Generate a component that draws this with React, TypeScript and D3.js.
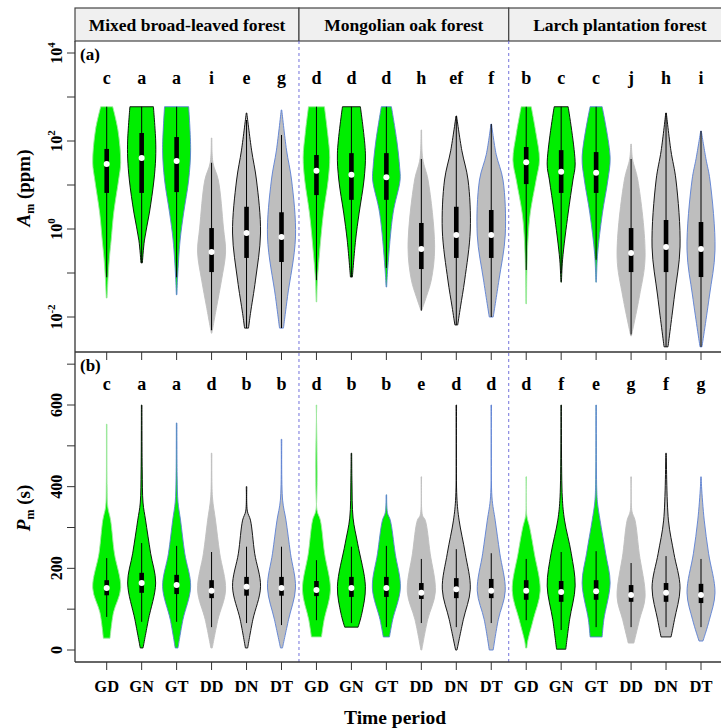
import React, { useEffect, useRef } from "react";
import * as d3 from "d3";

const forests = ["Mixed broad-leaved forest", "Mongolian oak forest", "Larch plantation forest"];
const periods = ["GD", "GN", "GT", "DD", "DN", "DT"];
const lettersA = ["c", "a", "a", "i", "e", "g", "d", "d", "d", "h", "ef", "f", "b", "c", "c", "j", "h", "i"];
const lettersB = ["c", "a", "a", "d", "b", "b", "d", "b", "b", "e", "d", "d", "d", "f", "e", "g", "f", "g"];

// violin outlines, [value, relative half width], top to bottom
const amShapes = [
  [[600, 0.43], [180, 0.8], [32, 1], [13, 0.85], [2.3, 0.5], [0.56, 0.32], [0.23, 0.2], [0.081, 0.1], [0.027, 0.03]],
  [[600, 0.84], [105, 1], [41, 1], [13, 0.88], [2.3, 0.55], [0.56, 0.2], [0.17, 0.05]],
  [[600, 0.86], [62, 1], [13, 0.86], [2.3, 0.5], [0.56, 0.25], [0.081, 0.07], [0.032, 0.02]],
  [[117, 0.02], [32, 0.1], [13, 0.48], [1.05, 0.85], [0.3, 1], [0.069, 0.71], [0.017, 0.36], [0.0043, 0.02]],
  [[433, 0.02], [62, 0.36], [13, 0.71], [0.81, 1], [0.069, 0.64], [0.012, 0.28], [0.0056, 0.14]],
  [[507, 0.02], [62, 0.36], [13, 0.72], [0.66, 1], [0.029, 0.43], [0.0056, 0.14]],
  [[600, 0.57], [150, 0.8], [43, 0.95], [13, 0.84], [2.3, 0.5], [0.26, 0.21], [0.069, 0.07], [0.022, 0.02]],
  [[600, 0.64], [53, 1], [13, 0.9], [2.3, 0.55], [0.56, 0.3], [0.081, 0.07]],
  [[600, 0.36], [100, 0.75], [25, 0.95], [13, 0.98], [2.3, 0.48], [0.13, 0.1], [0.048, 0.02]],
  [[178, 0.02], [39, 0.1], [13, 0.48], [0.39, 0.95], [0.069, 0.71], [0.029, 0.36], [0.014, 0.02]],
  [[370, 0.02], [60, 0.4], [13, 0.84], [0.95, 1], [0.069, 0.6], [0.017, 0.3], [0.0066, 0.1]],
  [[243, 0.02], [50, 0.35], [13, 0.84], [0.73, 1], [0.069, 0.55], [0.01, 0.14]],
  [[600, 0.36], [150, 0.7], [37, 0.95], [13, 0.71], [2.3, 0.29], [0.66, 0.14], [0.117, 0.05], [0.02, 0.02]],
  [[600, 0.5], [30, 1], [13, 0.84], [2.3, 0.5], [0.2, 0.1], [0.062, 0.02]],
  [[600, 0.43], [43, 1], [13, 0.84], [2.3, 0.45], [0.26, 0.1], [0.062, 0.02]],
  [[85, 0.02], [39, 0.1], [13, 0.48], [0.23, 1], [0.03, 0.6], [0.0037, 0.02]],
  [[433, 0.02], [60, 0.35], [13, 0.71], [0.39, 1], [0.03, 0.6], [0.0021, 0.14]],
  [[169, 0.02], [40, 0.35], [13, 0.64], [0.33, 1], [0.03, 0.6], [0.0021, 0.07]],
];
// [whisker low, q1, median, q3, whisker high]
const amBoxes = [
  [0.08, 6.6, 30, 66, 600], [0.17, 6.6, 41, 152, 600], [0.08, 6.9, 35, 123, 600],
  [0.005, 0.105, 0.3, 1.05, 32], [0.0056, 0.22, 0.81, 3.2, 300], [0.0056, 0.178, 0.66, 2.4, 137],
  [0.069, 5.9, 21, 48, 600], [0.081, 4.6, 17, 53, 600], [0.13, 4.6, 15, 53, 600],
  [0.014, 0.123, 0.35, 1.37, 39], [0.0066, 0.22, 0.73, 3.2, 370], [0.01, 0.22, 0.73, 2.7, 243],
  [0.117, 10.5, 33, 73, 600], [0.1, 6.6, 20, 62, 600], [0.2, 6.6, 19, 56, 600],
  [0.004, 0.105, 0.285, 1.05, 39], [0.0021, 0.105, 0.39, 1.6, 433], [0.0021, 0.081, 0.35, 1.44, 169],
];

const pmShapes = [
  [[553, 0.02], [400, 0.03], [350, 0.08], [318, 0.28], [237, 0.55], [152, 1], [91, 0.48], [29, 0.24]],
  [[600, 0.02], [441, 0.04], [360, 0.1], [318, 0.28], [237, 0.64], [164, 1], [74, 0.48], [5, 0.1]],
  [[556, 0.02], [421, 0.04], [362, 0.1], [318, 0.28], [237, 0.58], [155, 1], [74, 0.45], [5, 0.1]],
  [[482, 0.02], [375, 0.06], [318, 0.28], [237, 0.58], [147, 1], [74, 0.45], [5, 0.05]],
  [[400, 0.02], [340, 0.06], [318, 0.28], [237, 0.58], [155, 1], [74, 0.45], [5, 0.08]],
  [[516, 0.02], [367, 0.08], [318, 0.32], [237, 0.64], [152, 1], [74, 0.5], [5, 0.07]],
  [[600, 0.02], [343, 0.04], [318, 0.28], [237, 0.58], [147, 1], [74, 0.55], [32, 0.36]],
  [[482, 0.02], [411, 0.04], [323, 0.12], [260, 0.45], [155, 1], [90, 0.75], [56, 0.48]],
  [[380, 0.02], [336, 0.08], [318, 0.28], [237, 0.63], [152, 1], [74, 0.45], [32, 0.22]],
  [[424, 0.02], [330, 0.08], [318, 0.28], [237, 0.63], [142, 1], [74, 0.45], [0, 0.03]],
  [[600, 0.02], [375, 0.04], [318, 0.2], [237, 0.64], [149, 1], [74, 0.5], [0, 0.05]],
  [[600, 0.02], [375, 0.05], [318, 0.28], [237, 0.61], [145, 1], [74, 0.5], [0, 0.14]],
  [[424, 0.02], [330, 0.04], [300, 0.25], [237, 0.58], [145, 1], [74, 0.5], [20, 0.1], [5, 0.05]],
  [[600, 0.02], [375, 0.08], [318, 0.24], [237, 0.72], [157, 1], [74, 0.6], [2, 0.33]],
  [[600, 0.02], [397, 0.04], [360, 0.1], [318, 0.28], [237, 0.68], [164, 1], [74, 0.55], [32, 0.43]],
  [[424, 0.02], [340, 0.06], [318, 0.28], [237, 0.58], [130, 1], [74, 0.6], [17, 0.2]],
  [[482, 0.02], [318, 0.17], [237, 0.56], [152, 1], [74, 0.6], [32, 0.36]],
  [[424, 0.02], [400, 0.04], [318, 0.23], [237, 0.54], [140, 1], [74, 0.6], [22, 0.14]],
];
const pmBoxes = [
  [81, 134, 152, 171, 225], [69, 140, 164, 189, 262], [69, 137, 159, 184, 255],
  [56, 127, 145, 171, 240], [66, 133, 155, 179, 253], [61, 133, 152, 179, 253],
  [73, 132, 147, 169, 220], [66, 130, 152, 179, 253], [56, 130, 152, 179, 255],
  [66, 125, 140, 164, 223], [56, 127, 149, 176, 247], [66, 127, 145, 174, 237],
  [73, 123, 145, 171, 223], [49, 118, 142, 169, 240], [56, 123, 144, 171, 242],
  [56, 118, 135, 159, 213], [56, 118, 140, 164, 230], [56, 115, 135, 162, 223],
];

const amTicks = [1e-2, 1e-1, 1, 10, 100, 1000, 1e4];
const amLabelExps = [-2, 0, 2, 4];
const pmTicks = [0, 100, 200, 300, 400, 500, 600, 700];
const pmLabels = [0, 200, 400, 600];

const green = "#00ee00";
const grey = "#bebebe";
const blue = "#5a7fd4";
const font = "'Liberation Serif', 'Times New Roman', serif";

export default function App() {
  const ref = useRef<SVGSVGElement>(null);

  useEffect(() => {
    const svg = d3.select(ref.current);
    svg.selectAll("*").remove();

    const left = 75, right = 731;
    const stripTop = 8, stripBot = 41, midY = 352, bottomY = 662;

    const x = d3.scaleLinear().domain([0, 17]).range([106.7, 701]);
    const yA = d3.scaleLog().domain([1e-2, 1e4]).range([317, 53]);
    const yB = d3.scaleLinear().domain([0, 600]).range([650, 405]);
    const hw = 14;

    // strips
    const edges = [left, x(5.5), x(11.5), right];
    forests.forEach((f, i) => {
      svg.append("rect")
        .attr("x", edges[i]).attr("y", stripTop)
        .attr("width", edges[i + 1] - edges[i]).attr("height", stripBot - stripTop)
        .attr("fill", "#f0f0f0").attr("stroke", "#444").attr("stroke-width", 1.2);
      svg.append("text")
        .attr("x", (edges[i] + edges[i + 1]) / 2).attr("y", 31)
        .attr("text-anchor", "middle").attr("font-family", font)
        .attr("font-weight", "bold").attr("font-size", 17.5)
        .text(f);
    });

    // group dividers
    [x(5.5), x(11.5)].forEach((d) => {
      svg.append("line")
        .attr("x1", d).attr("x2", d).attr("y1", stripBot).attr("y2", bottomY)
        .attr("stroke", "#7272dc").attr("stroke-width", 1).attr("stroke-dasharray", "3,3");
    });

    const drawViolins = (shapes, boxes, y) => {
      const g = svg.append("g");
      shapes.forEach((shape, i) => {
        const cx = x(i);
        const p = periods[i % 6];
        const fill = p[0] === "G" ? green : grey;
        const stroke = p === "GD" ? "#9fe69f" : p[1] === "N" ? "#000" : p[1] === "T" ? blue : fill;
        const area = d3.area()
          .curve(d3.curveCatmullRom)
          .y((d) => y(d[0]))
          .x0((d) => cx - d[1] * hw)
          .x1((d) => cx + d[1] * hw);
        g.append("path").attr("d", area(shape))
          .attr("fill", fill).attr("stroke", stroke).attr("stroke-width", 0.9);
        const [lo, q1, med, q3, hi] = boxes[i];
        g.append("line")
          .attr("x1", cx).attr("x2", cx).attr("y1", y(hi)).attr("y2", y(lo))
          .attr("stroke", "#000").attr("stroke-width", 1);
        g.append("rect")
          .attr("x", cx - 2.3).attr("width", 4.6)
          .attr("y", y(q3)).attr("height", y(q1) - y(q3))
          .attr("fill", "#000");
        g.append("circle").attr("cx", cx).attr("cy", y(med)).attr("r", 3).attr("fill", "#fff");
      });
    };
    drawViolins(amShapes, amBoxes, yA);
    drawViolins(pmShapes, pmBoxes, yB);

    // axes lines
    svg.append("line").attr("x1", left).attr("x2", left).attr("y1", stripBot).attr("y2", bottomY)
      .attr("stroke", "#333").attr("stroke-width", 1.3);
    [midY, bottomY].forEach((yy) => {
      svg.append("line").attr("x1", left).attr("x2", right).attr("y1", yy).attr("y2", yy)
        .attr("stroke", "#333").attr("stroke-width", 1.3);
      d3.range(18).forEach((i) => {
        svg.append("line").attr("x1", x(i)).attr("x2", x(i)).attr("y1", yy).attr("y2", yy + 8)
          .attr("stroke", "#333").attr("stroke-width", 1);
      });
    });

    amTicks.forEach((t) => {
      svg.append("line").attr("x1", left - 8).attr("x2", left).attr("y1", yA(t)).attr("y2", yA(t))
        .attr("stroke", "#333").attr("stroke-width", 1);
    });
    pmTicks.forEach((t) => {
      svg.append("line").attr("x1", left - 8).attr("x2", left).attr("y1", yB(t)).attr("y2", yB(t))
        .attr("stroke", "#333").attr("stroke-width", 1);
    });

    amLabelExps.forEach((e) => {
      const t = svg.append("text")
        .attr("transform", `translate(62,${yA(10 ** e)}) rotate(-90)`)
        .attr("text-anchor", "middle").attr("font-family", font)
        .attr("font-weight", "bold").attr("font-size", 16);
      t.append("tspan").text("10");
      t.append("tspan").attr("dy", -7).attr("font-size", 11).text(String(e));
    });
    pmLabels.forEach((v) => {
      svg.append("text")
        .attr("transform", `translate(62,${yB(v)}) rotate(-90)`)
        .attr("text-anchor", "middle").attr("font-family", font)
        .attr("font-weight", "bold").attr("font-size", 16)
        .text(v);
    });

    // axis titles
    const tA = svg.append("text")
      .attr("transform", "translate(30,188) rotate(-90)")
      .attr("text-anchor", "middle").attr("font-family", font)
      .attr("font-weight", "bold").attr("font-size", 19);
    tA.append("tspan").attr("font-style", "italic").text("A");
    tA.append("tspan").attr("font-size", 12).attr("dy", 4).text("m");
    tA.append("tspan").attr("dy", -4).text(" (ppm)");

    const tB = svg.append("text")
      .attr("transform", "translate(30,508) rotate(-90)")
      .attr("text-anchor", "middle").attr("font-family", font)
      .attr("font-weight", "bold").attr("font-size", 19);
    tB.append("tspan").attr("font-style", "italic").text("P");
    tB.append("tspan").attr("font-size", 12).attr("dy", 4).text("m");
    tB.append("tspan").attr("dy", -4).text(" (s)");

    // panel tags and letters
    [["(a)", 60], ["(b)", 371]].forEach(([s, yy]) => {
      svg.append("text").attr("x", 80).attr("y", yy)
        .attr("font-family", font).attr("font-weight", "bold").attr("font-size", 17)
        .text(s);
    });
    [[lettersA, 84], [lettersB, 390]].forEach(([letters, yy]) => {
      letters.forEach((l, i) => {
        svg.append("text").attr("x", x(i)).attr("y", yy)
          .attr("text-anchor", "middle").attr("font-family", font)
          .attr("font-weight", "bold").attr("font-size", 18)
          .text(l);
      });
    });

    // x labels
    d3.range(18).forEach((i) => {
      svg.append("text").attr("x", x(i)).attr("y", 692)
        .attr("text-anchor", "middle").attr("font-family", font)
        .attr("font-weight", "bold").attr("font-size", 16.5)
        .text(periods[i % 6]);
    });
    svg.append("text").attr("x", 395).attr("y", 724)
      .attr("text-anchor", "middle").attr("font-family", font)
      .attr("font-weight", "bold").attr("font-size", 19.5)
      .text("Time period");
  }, []);

  return (
    <svg ref={ref} width={721} height={728}
      style={{ position: "absolute", left: 0, top: 0, background: "#fff" }} />
  );
}
